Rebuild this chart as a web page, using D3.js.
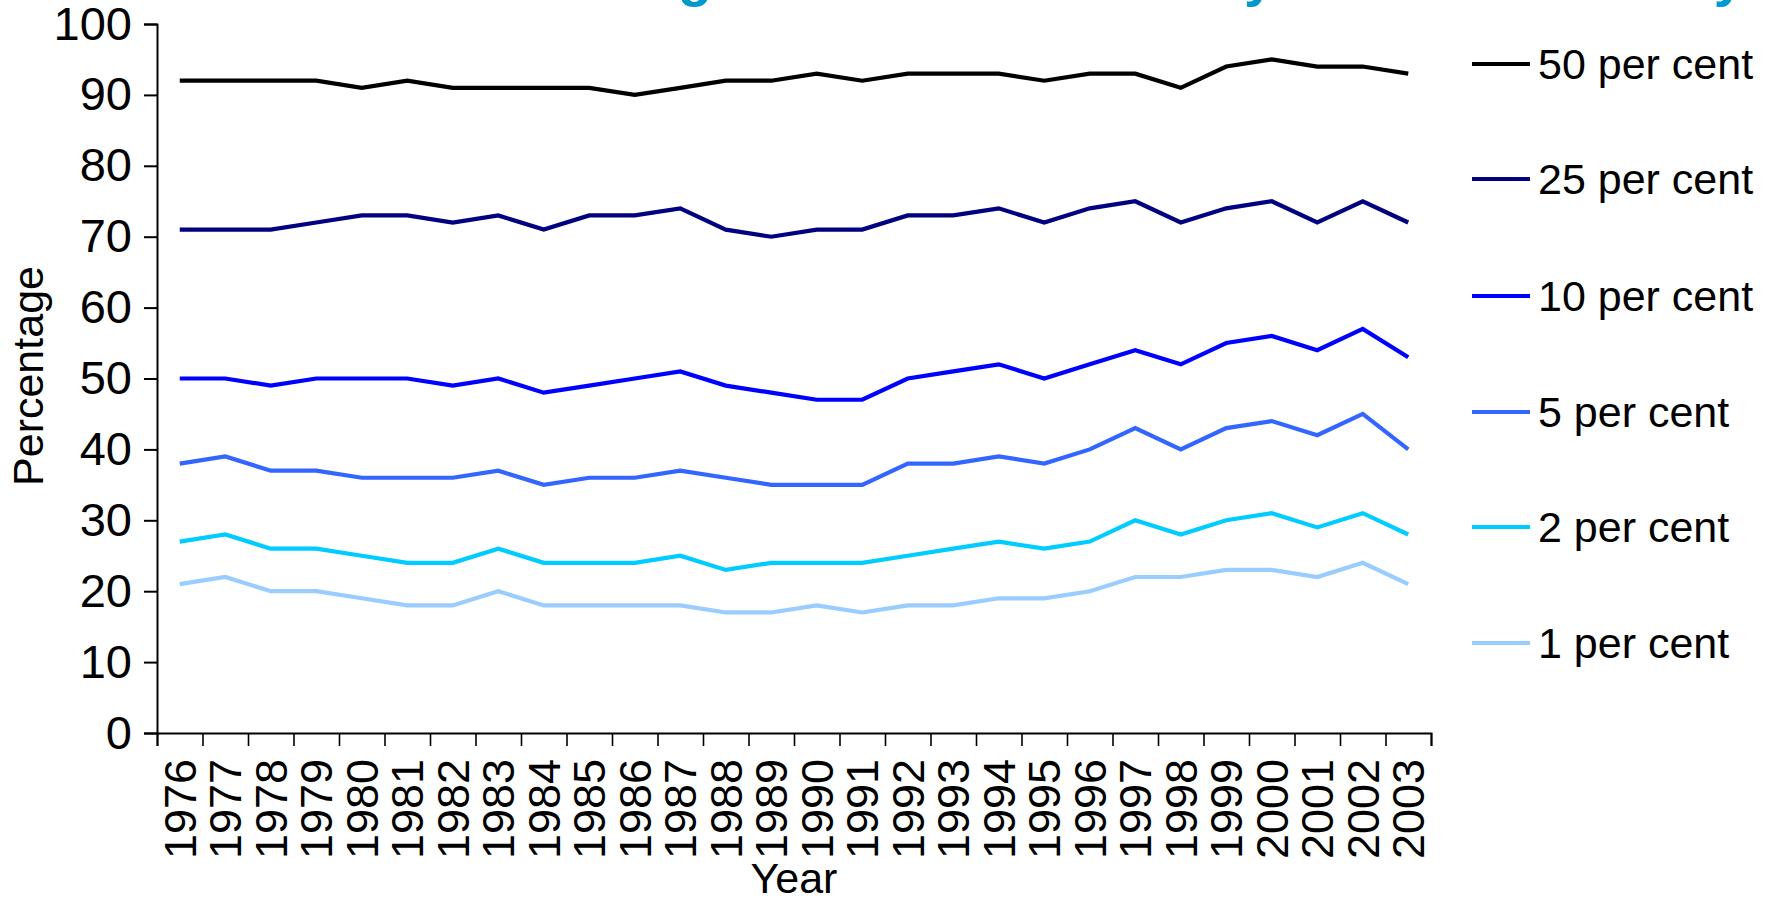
<!DOCTYPE html>
<html>
<head>
<meta charset="utf-8">
<script src="https://cdn.jsdelivr.net/npm/d3@7"></script>
<style>
  html, body { margin: 0; padding: 0; background: #ffffff; }
  svg { display: block; }
  text { font-family: "Liberation Sans", Arial, sans-serif; fill: #000; }
</style>
</head>
<body>
<svg id="chart" width="1769" height="899"></svg>
<script>
// Share of marketable wealth owned by the most wealthy groups, 1976-2003
const years = ["1976","1977","1978","1979","1980","1981","1982","1983","1984","1985",
               "1986","1987","1988","1989","1990","1991","1992","1993","1994","1995",
               "1996","1997","1998","1999","2000","2001","2002","2003"];

const top50 = [92,92,92,92,91,92,91,91,91,91,90,91,92,92,93,92,93,93,93,92,93,93,91,94,95,94,94,93];
const top25 = [71,71,71,72,73,73,72,73,71,73,73,74,71,70,71,71,73,73,74,72,74,75,72,74,75,72,75,72];
const top10 = [50,50,49,50,50,50,49,50,48,49,50,51,49,48,47,47,50,51,52,50,52,54,52,55,56,54,57,53];
const top5  = [38,39,37,37,36,36,36,37,35,36,36,37,36,35,35,35,38,38,39,38,40,43,40,43,44,42,45,40];
const top2  = [27,28,26,26,25,24,24,26,24,24,24,25,23,24,24,24,25,26,27,26,27,30,28,30,31,29,31,28];
const top1  = [21,22,20,20,19,18,18,20,18,18,18,18,17,17,18,17,18,18,19,19,20,22,22,23,23,22,24,21];

const seriesNames  = ["50 per cent","25 per cent","10 per cent","5 per cent","2 per cent","1 per cent"];
const seriesValues = [top50, top25, top10, top5, top2, top1];
const seriesColors = ["#000000","#000080","#0000FF","#3366FF","#00CCFF","#99CCFF"];

const yTicks = [0,10,20,30,40,50,60,70,80,90,100];

const titleText = "Percentage of wealth owned by the most wealthy";

const svg = d3.select("#chart");

const plot = { left: 157, right: 1431, top: 24, bottom: 733 };

const x = d3.scaleBand().domain(years).range([plot.left, plot.right]).padding(0);
const xEdge = d3.scaleLinear().domain([0, years.length]).range([plot.left, plot.right]);
const y = d3.scaleLinear().domain([0, 100]).range([plot.bottom, plot.top]);

// Title (sits at the very top edge)
svg.append("text")
  .attr("x", 1745)
  .attr("y", -5)
  .attr("text-anchor", "end")
  .style("font-size", "56px")
  .style("font-weight", "bold")
  .style("fill", "#0099CC")
  .text(titleText);

// Y axis
const yAxis = svg.append("g")
  .attr("transform", `translate(${plot.left},0)`)
  .call(d3.axisLeft(y).tickValues(yTicks).tickSize(13).tickPadding(12).tickFormat(d3.format("d")));
yAxis.select(".domain").attr("stroke", "#000").attr("stroke-width", 2);
yAxis.selectAll(".tick line").attr("stroke", "#000").attr("stroke-width", 2);
yAxis.selectAll(".tick text").style("font-size", "47px").attr("fill", "#000");

// X axis: tick marks between categories
const xTickAxis = svg.append("g")
  .attr("transform", `translate(0,${plot.bottom})`)
  .call(d3.axisBottom(xEdge).tickValues(d3.range(0, years.length + 1)).tickSize(13).tickFormat(""));
xTickAxis.select(".domain").attr("stroke", "#000").attr("stroke-width", 2);
xTickAxis.selectAll(".tick line").attr("stroke", "#000").attr("stroke-width", 1.6);

// X axis: rotated year labels at category centres
const xLabelAxis = svg.append("g")
  .attr("transform", `translate(0,${plot.bottom})`)
  .call(d3.axisBottom(x).tickSize(0).tickPadding(0));
xLabelAxis.select(".domain").remove();
xLabelAxis.selectAll(".tick text")
  .attr("transform", "rotate(-90)")
  .attr("x", -26)
  .attr("y", 0)
  .attr("dy", "0.35em")
  .attr("text-anchor", "end")
  .style("font-size", "45px")
  .attr("fill", "#000");

// Axis titles
svg.append("text")
  .attr("x", (plot.left + plot.right) / 2)
  .attr("y", 893)
  .attr("text-anchor", "middle")
  .style("font-size", "43px")
  .text("Year");

svg.append("text")
  .attr("transform", `translate(43,376) rotate(-90)`)
  .attr("text-anchor", "middle")
  .style("font-size", "43px")
  .text("Percentage");

// Series lines
const line = d3.line()
  .x((d, i) => x(years[i]) + x.bandwidth() / 2)
  .y(d => y(d));

svg.append("g").selectAll("path")
  .data(seriesValues)
  .join("path")
  .attr("d", d => line(d))
  .attr("fill", "none")
  .attr("stroke", (d, i) => seriesColors[i])
  .attr("stroke-width", 4.2)
  .attr("stroke-linejoin", "miter");

// Legend
const legendRows = [64, 179, 296, 412, 527, 643];
const legend = svg.append("g");
const item = legend.selectAll("g")
  .data(seriesNames)
  .join("g")
  .attr("transform", (d, i) => `translate(0,${legendRows[i]})`);
item.append("line")
  .attr("x1", 1472).attr("x2", 1530)
  .attr("y1", 0).attr("y2", 0)
  .attr("stroke", (d, i) => seriesColors[i])
  .attr("stroke-width", 4.2);
item.append("text")
  .attr("x", 1538)
  .attr("y", 0)
  .attr("dy", "0.35em")
  .style("font-size", "43px")
  .text(d => d);
</script>
</body>
</html>
